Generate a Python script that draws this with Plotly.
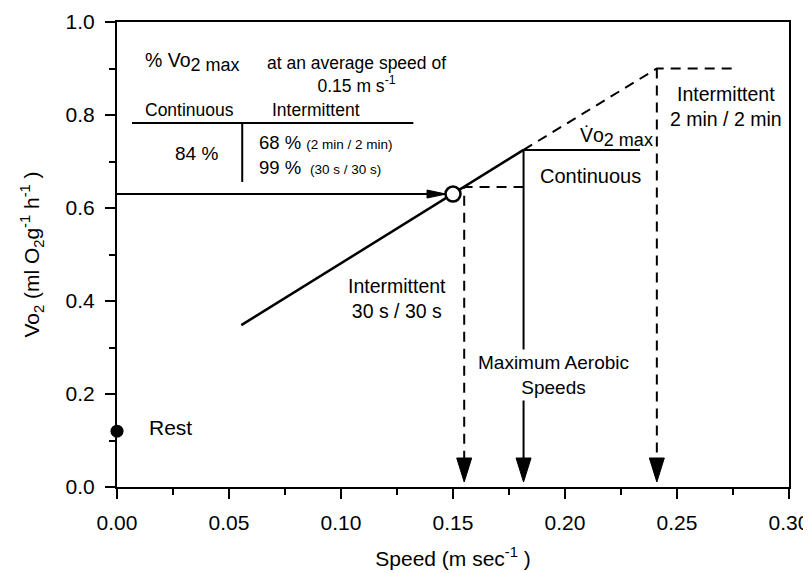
import plotly.graph_objects as go

# ---------------- data ----------------
model_speed = [0.0555, 0.1815]          # measured VO2-speed relation (solid)
model_vo2 = [0.348, 0.725]
cont_plateau_speed = [0.1815, 0.2335]   # continuous VO2max plateau
cont_plateau_vo2 = [0.725, 0.725]
extrap_speed = [0.1815, 0.241, 0.2755]  # extrapolated (dashed) to intermittent 2min/2min
extrap_vo2 = [0.725, 0.900, 0.900]
int30_speed = [0.1815, 0.155, 0.155]    # intermittent 30s/30s plateau and MAS
int30_vo2 = [0.645, 0.645, 0.02]
mas_speeds = [0.155, 0.1815, 0.241]     # maximum aerobic speeds (arrows)
mas_top = [0.645, 0.725, 0.900]
mas_dash = [True, False, True]
avg_speed = [0.150]                     # average speed 0.15 m/s
avg_vo2 = [0.630]
rest_speed = [0.0]
rest_vo2 = [0.12]
x_ticks = [0.00, 0.05, 0.10, 0.15, 0.20, 0.25, 0.30]
y_ticks = [0.0, 0.2, 0.4, 0.6, 0.8, 1.0]

FONT = "Liberation Sans, Arial, sans-serif"
DASH = "10px,7px"

fig = go.Figure()

fig.add_trace(go.Scatter(x=model_speed, y=model_vo2, mode="lines",
                         line=dict(color="black", width=2.5), showlegend=False))
fig.add_trace(go.Scatter(x=cont_plateau_speed, y=cont_plateau_vo2, mode="lines",
                         line=dict(color="black", width=2), showlegend=False))
fig.add_trace(go.Scatter(x=extrap_speed, y=extrap_vo2, mode="lines",
                         line=dict(color="black", width=2, dash=DASH), showlegend=False))
fig.add_trace(go.Scatter(x=int30_speed, y=int30_vo2, mode="lines",
                         line=dict(color="black", width=2, dash=DASH), showlegend=False))
for sx, top, d in zip(mas_speeds, mas_top, mas_dash):
    if sx == int30_speed[-1]:
        continue
    fig.add_trace(go.Scatter(x=[sx, sx], y=[top, 0.02], mode="lines",
                             line=dict(color="black", width=2, dash=DASH if d else "solid"),
                             showlegend=False))
# horizontal arrow from axis to the average-speed point
fig.add_trace(go.Scatter(x=[0.0, avg_speed[0] - 0.003], y=[avg_vo2[0], avg_vo2[0]], mode="lines",
                         line=dict(color="black", width=2), showlegend=False, cliponaxis=False))
fig.add_trace(go.Scatter(x=avg_speed, y=avg_vo2, mode="markers",
                         marker=dict(symbol="circle", size=15, color="white",
                                     line=dict(color="black", width=2.5)),
                         showlegend=False))
fig.add_trace(go.Scatter(x=rest_speed, y=rest_vo2, mode="markers",
                         marker=dict(symbol="circle", size=13, color="black"),
                         showlegend=False, cliponaxis=False))

shapes = []
# arrowheads pointing down onto the x axis
for sx in mas_speeds:
    shapes.append(dict(type="path", xref="x", yref="y", xsizemode="pixel", ysizemode="pixel",
                       xanchor=sx, yanchor=0.0, path="M0,5 L-7.5,29 L7.5,29 Z",
                       fillcolor="black", line=dict(color="black", width=1)))
# arrowhead pointing at the open circle
shapes.append(dict(type="path", xref="x", yref="y", xsizemode="pixel", ysizemode="pixel",
                   xanchor=avg_speed[0], yanchor=avg_vo2[0], path="M-7,0 L-26,4 L-26,-4 Z",
                   fillcolor="black", line=dict(color="black", width=1)))
# table rules
shapes.append(dict(type="line", xref="x", yref="y", x0=0.0067, x1=0.1323, y0=0.783, y1=0.783,
                   line=dict(color="black", width=2)))
shapes.append(dict(type="line", xref="x", yref="y", x0=0.0559, x1=0.0559, y0=0.783, y1=0.656,
                   line=dict(color="black", width=2)))

def ann(text, x, y, size, xanchor="left", align="left", bg=None):
    d = dict(text=text, x=x, y=y, xref="x", yref="y", showarrow=False,
             xanchor=xanchor, yanchor="middle", align=align,
             font=dict(family=FONT, size=size, color="black"))
    if bg:
        d["bgcolor"] = bg
        d["borderpad"] = 2
    return d

def sub(t, px):
    return f"<sub><span style='font-size:{px}px'>{t}</span></sub>"

annotations = [
    ann("% Vo" + sub("2 max", 18), 0.0116, 0.915, 19.5),
    ann("at an average speed of<br>0.15 m s<sup>-1</sup>", 0.1067, 0.887, 17.5, xanchor="center", align="center"),
    ann("Continuous", 0.0116, 0.811, 17.5),
    ann("Intermittent", 0.0684, 0.811, 17.5),
    ann("84 %", 0.025, 0.718, 19),
    ann("68 % <span style='font-size:13.5px'>(2 min / 2 min)</span>", 0.0626, 0.740, 18.5),
    ann("99 % <span style='font-size:13.5px'> (30 s / 30 s)</span>", 0.0626, 0.688, 18.5),
    ann("V\u0307o" + sub("2 max", 18), 0.2056, 0.752, 19.5),
    ann("Continuous", 0.188, 0.669, 20),
    ann("Intermittent<br>2 min / 2 min", 0.2718, 0.818, 19.5, xanchor="center", align="center"),
    ann("Intermittent<br>30 s / 30 s", 0.125, 0.405, 19.5, xanchor="center", align="center"),
    ann("Maximum Aerobic<br>Speeds", 0.195, 0.241, 19, xanchor="center", align="center", bg="white"),
    ann("Rest", 0.0134, 0.127, 21),
]

# the page adds an 8 px body margin, so the figure is sized to fit inside the window
fig.update_layout(
    width=803, height=565,
    margin=dict(l=109, r=22, t=14, b=86, autoexpand=False),
    paper_bgcolor="white", plot_bgcolor="white",
    font=dict(family=FONT, size=21, color="black"),
    shapes=shapes, annotations=annotations,
    showlegend=False,
)
fig.update_xaxes(
    range=[0, 0.30], tickvals=x_ticks, ticktext=[f"{v:.2f}" for v in x_ticks],
    showline=True, linewidth=2, linecolor="black", mirror=True,
    ticks="outside", ticklen=10, tickwidth=2, tickcolor="black",
    minor=dict(dtick=0.025, ticks="outside", ticklen=6, tickwidth=2, tickcolor="black"),
    showgrid=False, zeroline=False, automargin=False,
    tickfont=dict(family=FONT, size=21),
    ticklabelstandoff=6,
    title=dict(text="Speed (m sec<sup>-1</sup> )", font=dict(family=FONT, size=21), standoff=18),
)
fig.update_yaxes(
    range=[0, 1.0], tickvals=y_ticks, ticktext=[f"{v:.1f}" for v in y_ticks],
    showline=True, linewidth=2, linecolor="black", mirror=True,
    ticks="outside", ticklen=10, tickwidth=2, tickcolor="black",
    minor=dict(dtick=0.1, ticks="outside", ticklen=6, tickwidth=2, tickcolor="black"),
    showgrid=False, zeroline=False, automargin=False,
    tickfont=dict(family=FONT, size=21),
    ticklabelstandoff=6,
    title=dict(text="Vo<sub>2</sub> (ml O<sub>2</sub>g<sup>-1</sup> h<sup>-1</sup> )",
               font=dict(family=FONT, size=21), standoff=20),
)

fig.write_html("out.html")
